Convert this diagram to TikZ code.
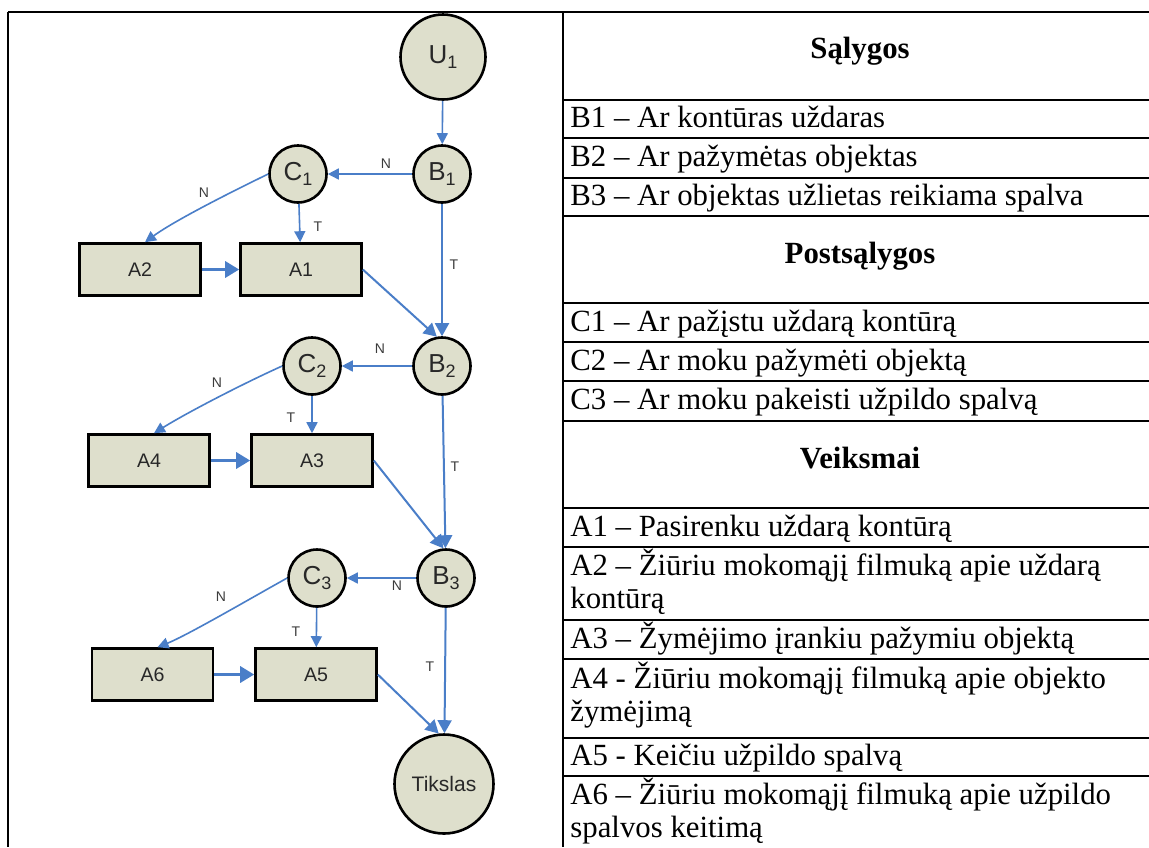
\documentclass[tikz,border=0pt]{standalone}
\usepackage{fontspec}
\setmainfont{Liberation Serif}
\newfontfamily\diagfont{Liberation Sans}
\usetikzlibrary{arrows.meta}
\definecolor{nodefill}{RGB}{222,223,204}
\definecolor{flow}{RGB}{74,126,200}
\definecolor{labelgray}{RGB}{60,60,60}
\definecolor{nodetext}{RGB}{40,40,40}
\newcommand\idx[1]{\raisebox{-0.35ex}{\fontsize{9}{9}\selectfont #1}}

\begin{document}
\begin{tikzpicture}[x=0.5pt,y=-0.5pt,
  cnode/.style={circle,draw=black,line width=1.3pt,fill=nodefill,inner sep=0pt,
    minimum size=28.5pt,font=\diagfont\fontsize{13}{13}\selectfont,text=nodetext},
  bigcnode/.style={cnode,minimum size=42.5pt},
  goalnode/.style={cnode,minimum size=49.5pt,font=\diagfont\fontsize{10.5}{10.5}\selectfont},
  actbox/.style={rectangle,draw=black,line width=1.3pt,fill=nodefill,inner sep=0pt,
    minimum width=60.5pt,minimum height=26pt,font=\diagfont\fontsize{9.8}{9.8}\selectfont,text=nodetext},
  flowline/.style={draw=flow,line width=0.8pt,-{Triangle[length=5.5pt,width=5.5pt]}},
  mainflow/.style={draw=flow,line width=1pt,-{Triangle[length=6.5pt,width=7pt]}},
  thickflow/.style={draw=flow,line width=1.6pt,-{Triangle[length=7pt,width=8pt]}},
  edgelbl/.style={font=\diagfont\fontsize{7}{7}\selectfont,text=labelgray,inner sep=0pt},
  cell/.style={anchor=base west,inner sep=0pt,font=\fontsize{15.4}{18}\selectfont},
  headcell/.style={anchor=base,inner sep=0pt,font=\bfseries\fontsize{15.4}{18}\selectfont},
  tablerule/.style={line width=0.8pt}
]
\fill[white] (0,0) rectangle (1149,847);
\useasboundingbox (0,0) rectangle (1149,847);

% table frame
\draw[line width=1pt] (8,12) -- (76,12);
\draw[line width=0.6pt] (76,12) -- (496,12);
\draw[line width=1pt] (496,12) -- (1149,12);
\draw[line width=0.8pt] (8,12) -- (8,847);
\draw[line width=0.8pt] (563,12) -- (563,847);
\foreach \yy in {100,138,178,216,303,342,381,421,508,547,620,659,738,776}
  \draw[tablerule] (563,\yy) -- (1149,\yy);

% table text
\node[headcell] (hS) at (860,58) {Sąlygos};
\node[cell] (tB1) at (570,127) {B1 – Ar kontūras uždaras};
\node[cell] (tB2) at (570,166) {B2 – Ar pažymėtas objektas};
\node[cell] (tB3) at (570,205) {B3 – Ar objektas užlietas reikiama spalva};
\node[headcell] (hP) at (860,263) {Postsąlygos};
\node[cell] (tC1) at (570,331) {C1 – Ar pažįstu uždarą kontūrą};
\node[cell] (tC2) at (570,370) {C2 – Ar moku pažymėti objektą};
\node[cell] (tC3) at (570,409) {C3 – Ar moku pakeisti užpildo spalvą};
\node[headcell] (hV) at (860,468) {Veiksmai};
\node[cell] (tA1) at (570,536) {A1 – Pasirenku uždarą kontūrą};
\node[cell] (tA2a) at (570,575) {A2 – Žiūriu mokomąjį filmuką apie uždarą};
\node[cell] (tA2b) at (570,608) {kontūrą};
\node[cell] (tA3) at (570,648) {A3 – Žymėjimo įrankiu pažymiu objektą};
\node[cell] (tA4a) at (570,688) {A4 - Žiūriu mokomąjį filmuką apie objekto};
\node[cell] (tA4b) at (570,721) {žymėjimą};
\node[cell] (tA5) at (570,765) {A5 - Keičiu užpildo spalvą};
\node[cell] (tA6a) at (570,804) {A6 – Žiūriu mokomąjį filmuką apie užpildo};
\node[cell] (tA6b) at (570,837) {spalvos keitimą};

% diagram nodes
\node[bigcnode] (U1) at (443,57) {U\idx{1}};
\node[cnode] (B1) at (442,174) {B\idx{1}};
\node[cnode] (C1) at (298,174) {C\idx{1}};
\node[actbox] (A2) at (140,269.5) {A2};
\node[actbox] (A1) at (301,269.5) {A1};
\node[cnode] (B2) at (442,366) {B\idx{2}};
\node[cnode] (C2) at (312,366) {C\idx{2}};
\node[actbox] (A4) at (149,460.5) {A4};
\node[actbox] (A3) at (312,460.5) {A3};
\node[cnode] (B3) at (446,578) {B\idx{3}};
\node[cnode] (C3) at (317,578) {C\idx{3}};
\node[actbox] (A6) at (152.5,674.5) {A6};
\node[actbox] (A5) at (316,674.5) {A5};
\node[goalnode] (Goal) at (444,784) {Tikslas};

% connectors
\draw[flowline] (U1) -- (B1);
\draw[flowline] (B1) -- (C1);
\draw[flowline] (C1.west) .. controls +(-35,17) and +(30,-22) .. ([xshift=2.5pt]A2.north);
\draw[flowline] (C1) -- (A1);
\draw[thickflow] (A2) -- (A1);
\draw[mainflow] (A1.east) -- (B2.100);
\draw[mainflow] (B1) -- (B2);

\draw[flowline] (B2) -- (C2);
\draw[flowline] (C2.west) .. controls +(-40,18) and +(32,-20) .. ([xshift=2.5pt]A4.north);
\draw[flowline] (C2) -- (A3);
\draw[thickflow] (A4) -- (A3);
\draw[mainflow] (A3.east) -- (B3.95);
\draw[mainflow] (B2) -- (B3);

\draw[flowline] (B3) -- (C3);
\draw[flowline] (C3.west) .. controls +(-36,20) and +(30,-12) .. ([xshift=2.5pt]A6.north);
\draw[flowline] (C3) -- (A5);
\draw[thickflow] (A6) -- (A5);
\draw[mainflow] (A5.east) -- (Goal.96);
\draw[mainflow] (B3) -- (Goal);

% connector labels
\node[edgelbl] (lN1) at (386,164) {N};
\node[edgelbl] (lN2) at (204,193) {N};
\node[edgelbl] (lT1) at (318,227) {T};
\node[edgelbl] (lT2) at (454,265) {T};
\node[edgelbl] (lN3) at (380,349) {N};
\node[edgelbl] (lN4) at (217,383) {N};
\node[edgelbl] (lT3) at (291,418) {T};
\node[edgelbl] (lT4) at (455,467) {T};
\node[edgelbl] (lN5) at (397,586) {N};
\node[edgelbl] (lN6) at (221,597) {N};
\node[edgelbl] (lT5) at (296,632) {T};
\node[edgelbl] (lT6) at (430,667) {T};
\end{tikzpicture}
\end{document}
